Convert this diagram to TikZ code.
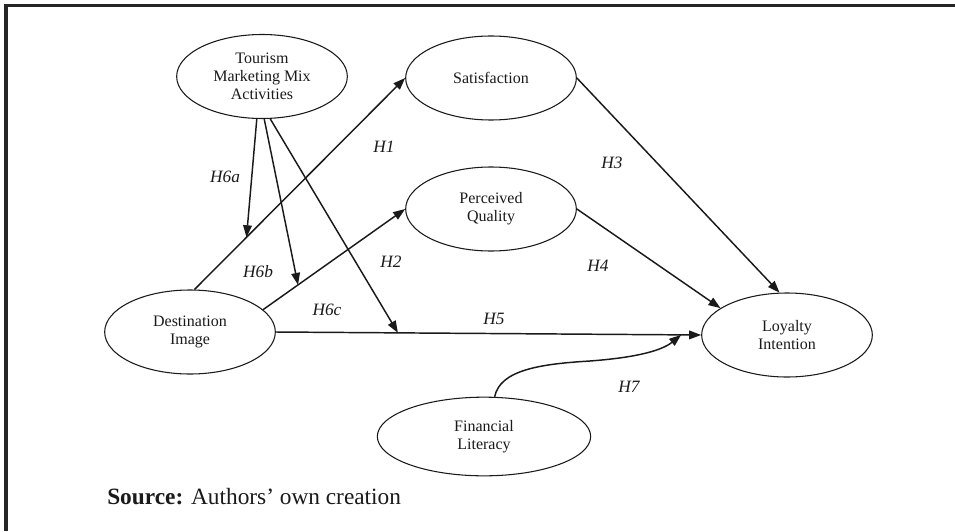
\documentclass[tikz,border=0pt]{standalone}
\usepackage{fontspec}
\setmainfont{Liberation Serif}
\usepackage{xcolor}
\usepackage{tikz}
\usetikzlibrary{
  arrows.meta,
  shapes.geometric
}
\definecolor{framegray}{HTML}{262626}
\definecolor{inkcolor}{HTML}{1A1A1A}

\begin{document}
\begin{tikzpicture}[
  x=0.75pt, y=-0.75pt,
  construct/.style={draw=inkcolor, ellipse, line width=0.8pt, inner sep=0pt,
    minimum width=128pt, minimum height=63pt, align=center,
    font=\fontsize{12}{13.6}\selectfont, text=inkcolor},
  path/.style={draw=inkcolor, line width=1.1pt,
    -{Triangle[length=9pt, width=6.5pt]}},
  hyp/.style={font=\fontsize{13}{15}\selectfont\itshape, text=inkcolor},
]
  \useasboundingbox (0,0) rectangle (955,531);
  \draw[framegray, line width=2.6pt] (6,531) -- (6,5.7) -- (955,5.7);

  % Constructs
  \node[construct] (tmm) at (262,76.5) {Tourism\\Marketing Mix\\Activities};
  \node[construct] (sat) at (491,78) {Satisfaction};
  \node[construct] (pq) at (491,209) {Perceived\\Quality};
  \node[construct] (di) at (190,332) {Destination\\Image};
  \node[construct] (li) at (787,335) {Loyalty\\Intention};
  \node[construct, minimum width=160pt, minimum height=59pt] (fl) at (484,436.5)
    {Financial\\Literacy};

  % Direct paths
  \draw[path] (di.84) -- coordinate[pos=0.247] (m1) (sat.west);
  \draw[path] (di.17) -- coordinate[pos=0.246] (m2) (pq.west);
  \draw[path] (di.east) -- coordinate[pos=0.287] (m3) coordinate[pos=0.953] (m4) (li.west);
  \draw[path] (sat.east) -- (li.100);
  \draw[path] (pq.east) -- (li.158);

  % Moderating paths
  \draw[path] (tmm.263) -- (m1);
  \draw[path] (tmm.273) -- (m2);
  \draw[path] (tmm.281) -- (m3);
  \draw[path] (fl.75) .. controls (500,370) and (540,364) .. (590,361)
    .. controls (630,358) and (660,352) .. (m4);

  % Hypotheses
  \node[hyp] (h1) at (384,147) {H1};
  \node[hyp] (h2) at (391,262) {H2};
  \node[hyp] (h3) at (612,163) {H3};
  \node[hyp] (h4) at (598,266) {H4};
  \node[hyp] (h5) at (494,319) {H5};
  \node[hyp] (h6a) at (225,177) {H6a};
  \node[hyp] (h6b) at (258,272) {H6b};
  \node[hyp] (h6c) at (327,310) {H6c};
  \node[hyp] (h7) at (629,387) {H7};

  \node[anchor=base west, font=\fontsize{17.5}{20}\selectfont, text=inkcolor, inner sep=0pt]
    (src) at (107,504) {\textbf{Source:} Authors’ own creation};
\end{tikzpicture}
\end{document}
